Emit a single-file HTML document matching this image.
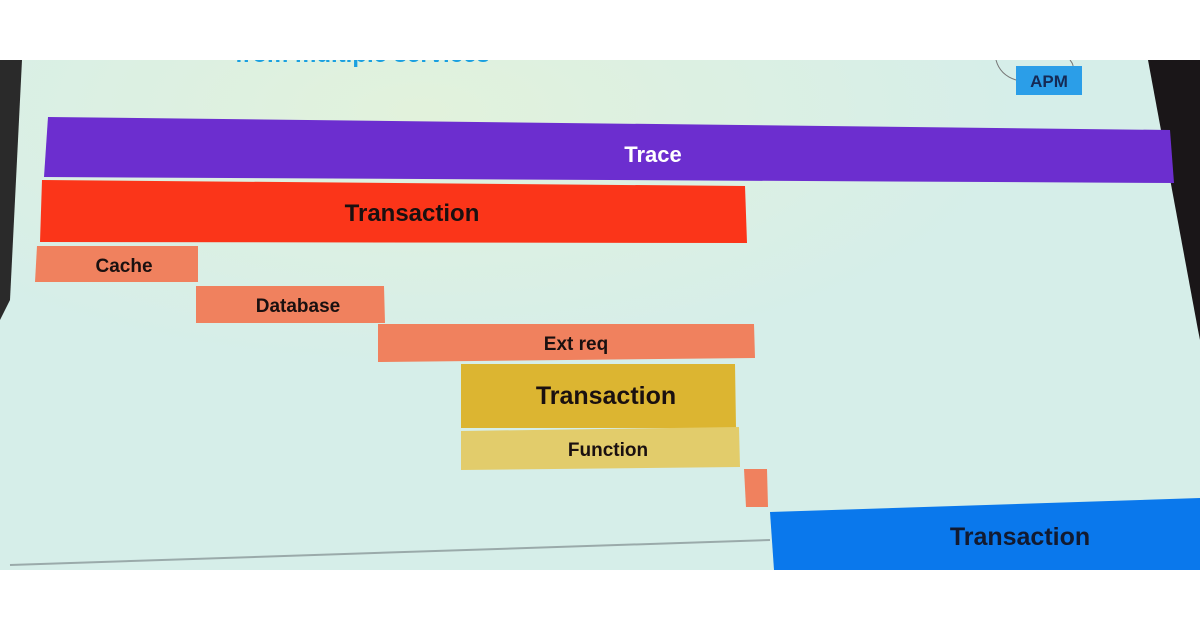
<!DOCTYPE html>
<html><head><meta charset="utf-8"><style>
html,body{margin:0;padding:0;background:#fff;}
svg{display:block;}
text{font-family:"Liberation Sans",sans-serif;font-weight:bold;}
</style></head><body>
<svg width="1200" height="630" viewBox="0 0 1200 630">
<defs>
<radialGradient id="g" cx="0.35" cy="0.1" r="0.5">
<stop offset="0" stop-color="#e2f2dc"/><stop offset="1" stop-color="#d6eee9"/>
</radialGradient>
<clipPath id="c"><rect x="0" y="60" width="1200" height="510"/></clipPath>
</defs>
<g clip-path="url(#c)">
<rect x="0" y="60" width="1200" height="510" fill="url(#g)"/>
<text x="235" y="62" font-size="24" fill="#1aa0e0" font-weight="normal">from multiple services</text>
<polygon points="0,60 22,60 10,300 0,320" fill="#2a2a2a"/>
<polygon points="1148,60 1200,60 1200,340 1198,330" fill="#1a1618"/>
<path d="M996,60 Q1000,75 1016,80" stroke="#777" fill="none" stroke-width="1"/>
<path d="M1070,60 Q1075,66 1072,70" stroke="#777" fill="none" stroke-width="1"/>
<rect x="1016" y="66" width="66" height="29" fill="#2b9ee8"/>
<text x="1049" y="87" font-size="17" fill="#152a55" text-anchor="middle" font-weight="normal">APM</text>
<polygon points="48,117 1170,130 1174,183 44,177" fill="#6c2ecf"/>
<text x="653" y="162" font-size="22" fill="#fff" text-anchor="middle">Trace</text>
<polygon points="42,180 745,186 747,243 40,242" fill="#fb3519"/>
<text x="412" y="221" font-size="24" fill="#1a1010" text-anchor="middle">Transaction</text>
<polygon points="37,246 198,246 198,282 35,282" fill="#f0815e"/>
<text x="124" y="272" font-size="19" fill="#1a1010" text-anchor="middle">Cache</text>
<polygon points="196,286 384,286 385,323 196,323" fill="#f0815e"/>
<text x="298" y="312" font-size="19" fill="#1a1010" text-anchor="middle">Database</text>
<polygon points="378,324 754,324 755,358 378,362" fill="#f0815e"/>
<text x="576" y="350" font-size="19" fill="#1a1010" text-anchor="middle">Ext req</text>
<polygon points="461,364 735,364 736,428 461,428" fill="#dcb531"/>
<text x="606" y="404" font-size="25" fill="#1a1010" text-anchor="middle">Transaction</text>
<polygon points="461,431 739,427 740,467 461,470" fill="#e2cc6b"/>
<text x="608" y="456" font-size="19" fill="#1a1010" text-anchor="middle">Function</text>
<polygon points="744,469 767,469 768,507 746,507" fill="#f0815e"/>
<polygon points="770,512 1200,498 1200,570 774,570" fill="#0a78ec"/>
<text x="1020" y="545" font-size="25" fill="#121a30" text-anchor="middle">Transaction</text>
<line x1="10" y1="565" x2="770" y2="540" stroke="#9aaaaa" stroke-width="2"/>
</g>
</svg>
</body></html>
